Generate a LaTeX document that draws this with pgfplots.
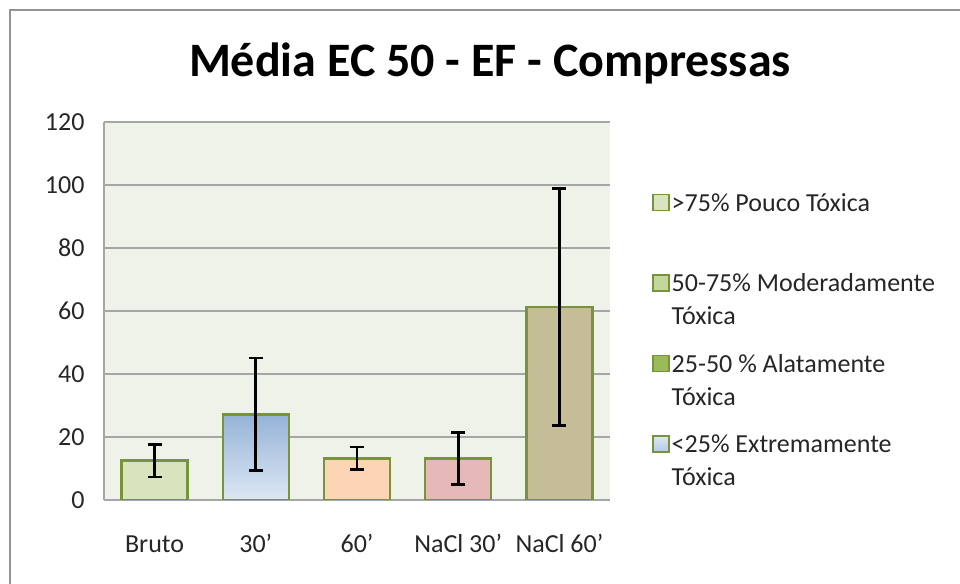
\documentclass[border=0pt]{standalone}
\usepackage{pgfplots}
\pgfplotsset{compat=1.18}
\usepackage{fontspec}
\setmainfont{Carlito}

\definecolor{edgegreen}{HTML}{77933C}
\definecolor{cBruto}{HTML}{D7E4BD}
\definecolor{cBlueTop}{HTML}{95B3D7}
\definecolor{cBlueBot}{HTML}{DDE7F4}
\definecolor{cSixty}{HTML}{FCD5B5}
\definecolor{cNaTh}{HTML}{E6B9B8}
\definecolor{cNaSix}{HTML}{C4BD97}
\definecolor{plotbg}{HTML}{EFF2E9}
\definecolor{gridgray}{HTML}{A6A6A6}
\definecolor{leg2}{HTML}{C3D69B}
\definecolor{leg3}{HTML}{9BBB59}

\begin{document}
\begin{tikzpicture}
\useasboundingbox (0,0) rectangle (960bp,584bp);
% chart frame
\draw[gray!85, line width=2bp] (10bp,-20bp) rectangle (990bp,574bp);
% title
\node[anchor=base, font=\fontsize{48bp}{54bp}\selectfont\bfseries] at (490bp,507bp) {Média EC 50 - EF - Compressas};

\begin{axis}[
    at={(104bp,84bp)}, anchor=south west,
    scale only axis,
    width=506bp, height=378bp,
    ymin=0, ymax=120,
    ytick={0,20,...,120},
    xmin=-0.5, xmax=4.5,
    xtick={0,1,2,3,4},
    xticklabels={Bruto, 30’, 60’, NaCl 30’, NaCl 60’},
    axis x line*=bottom, axis y line*=left,
    axis line style={gridgray, line width=1.5bp},
    major tick length=0pt,
    ymajorgrids,
    grid style={gridgray, line width=1.5bp},
    axis background/.style={fill=plotbg},
    /pgf/number format/assume math mode=true,
    tick label style={font=\fontsize{26bp}{30bp}\selectfont, black!85},
    yticklabel style={xshift=-16bp},
    xticklabel style={anchor=base, yshift=-52bp},
    ybar, bar width=66bp, bar shift=0pt,
    error bars/y dir=both, error bars/y explicit,
    error bars/error bar style={black, line width=2.8bp},
    error bars/error mark options={black, rotate=90, mark size=7bp, line width=2.8bp},
    legend style={draw=none, fill=none, inner sep=0pt,
        at={(1.083,0.8175)}, anchor=north west,
        row sep=24bp,
        font=\fontsize{26bp}{33bp}\selectfont,
        nodes={align=left, inner sep=2bp, text=black!85}},
    legend cell align=left,
    legend image code/.code={\draw[#1, line width=1.5bp] (0bp,9bp) rectangle (16bp,25bp);},
]
\addplot[forget plot, draw=edgegreen, line width=2.5bp, fill=cBruto]
    coordinates {(0,12.5) +- (0,5.2)};
\addplot[forget plot, draw=edgegreen, line width=2.5bp, top color=cBlueTop, bottom color=cBlueBot]
    coordinates {(1,27.2) +- (0,17.9)};
\addplot[forget plot, draw=edgegreen, line width=2.5bp, fill=cSixty]
    coordinates {(2,13.2) +- (0,3.6)};
\addplot[forget plot, draw=edgegreen, line width=2.5bp, fill=cNaTh]
    coordinates {(3,13.2) +- (0,8.2)};
\addplot[forget plot, draw=edgegreen, line width=2.5bp, fill=cNaSix]
    coordinates {(4,61.3) +- (0,37.6)};

\addlegendimage{draw=edgegreen, fill=cBruto}
\addlegendentry{>75\% Pouco Tóxica\\\strut}
\addlegendimage{draw=edgegreen, fill=leg2}
\addlegendentry{50-75\% Moderadamente\\Tóxica}
\addlegendimage{draw=edgegreen, fill=leg3}
\addlegendentry{25-50 \% Alatamente\\Tóxica}
\addlegendimage{draw=edgegreen, top color=cBlueBot, bottom color=cBlueTop!70}
\addlegendentry{<25\% Extremamente\\Tóxica}
\end{axis}
\end{tikzpicture}
\end{document}
